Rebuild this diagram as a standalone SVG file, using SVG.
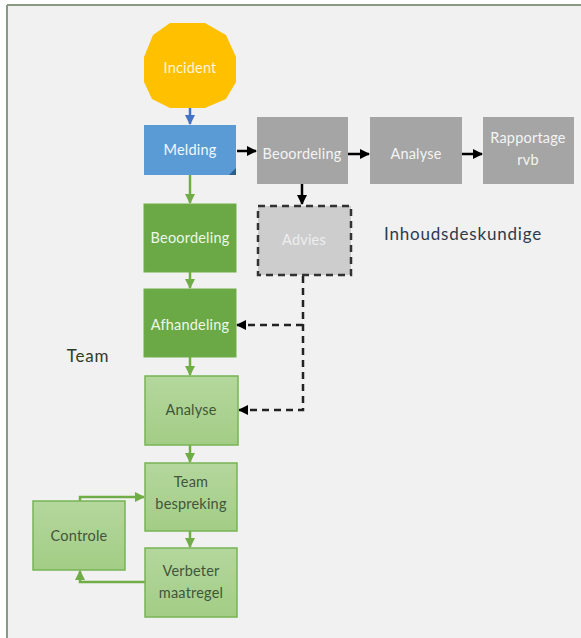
<svg xmlns="http://www.w3.org/2000/svg" width="581" height="638" viewBox="0 0 581 638">
<style>
text{font-family:Lato,"Open Sans","Liberation Sans",sans-serif;font-size:14.5px;text-anchor:middle;letter-spacing:0.2px}
.g{fill:#a5a5a5}
.gt{fill:#f4f4f4}
.dg{fill:#6aa946;stroke:#70ad47;stroke-width:1}
.dgt{fill:#eef7e8}
.lg{fill:url(#lgr);stroke:#78b456;stroke-width:1.5}
.lgt{fill:#42553a}
.lbl{font-size:17px;letter-spacing:0.8px}
.gl{stroke:#70ad47;stroke-width:2.5;fill:none}
.bl{stroke:#000;stroke-width:2.5;fill:none}
.dl{stroke:#222;stroke-width:2.5;fill:none;stroke-dasharray:7 5}
</style>
<defs>
<linearGradient id="lgr" x1="0" y1="0" x2="0" y2="1">
<stop offset="0" stop-color="#b4d79d"/>
<stop offset="1" stop-color="#a3cd86"/>
</linearGradient>
<marker id="ag" viewBox="0 0 10 10" refX="9" refY="5" markerWidth="4" markerHeight="4" orient="auto" markerUnits="strokeWidth"><path d="M0,0L10,5L0,10z" fill="#70ad47"/></marker>
<marker id="ab" viewBox="0 0 10 10" refX="9" refY="5" markerWidth="4" markerHeight="4" orient="auto" markerUnits="strokeWidth"><path d="M0,0L10,5L0,10z" fill="#000"/></marker>
<marker id="abl" viewBox="0 0 10 10" refX="9" refY="5" markerWidth="4" markerHeight="4" orient="auto" markerUnits="strokeWidth"><path d="M0,0L10,5L0,10z" fill="#4472c4"/></marker>
</defs>
<rect x="0" y="0" width="581" height="638" fill="#ffffff"/>
<rect x="8" y="6" width="573" height="632" fill="#f1f1f1"/>
<line x1="7" y1="5" x2="581" y2="5" stroke="#8a9a80" stroke-width="2"/>
<line x1="7" y1="5" x2="7" y2="638" stroke="#8a9a80" stroke-width="2"/>

<g id="connectors">
<line x1="190" y1="108" x2="190" y2="124" stroke="#4472c4" stroke-width="2.5" marker-end="url(#abl)"/>
<line x1="237" y1="151" x2="256" y2="151" class="bl" marker-end="url(#ab)"/>
<line x1="348" y1="154" x2="369" y2="154" class="bl" marker-end="url(#ab)"/>
<line x1="462" y1="154" x2="482" y2="154" class="bl" marker-end="url(#ab)"/>
<line x1="302" y1="184" x2="302" y2="204" class="bl" marker-end="url(#ab)"/>
<line x1="190" y1="175" x2="190" y2="203" class="gl" marker-end="url(#ag)"/>
<line x1="190" y1="272" x2="190" y2="288" class="gl" marker-end="url(#ag)"/>
<line x1="190" y1="357" x2="190" y2="375" class="gl" marker-end="url(#ag)"/>
<line x1="190" y1="445" x2="190" y2="462" class="gl" marker-end="url(#ag)"/>
<line x1="190" y1="531" x2="190" y2="547" class="gl" marker-end="url(#ag)"/>
<path d="M303,276 V410 H239" class="dl" marker-end="url(#ab)"/>
<path d="M303,325 H237" class="dl" marker-end="url(#ab)"/>
<path d="M80,501 V497 H144" class="gl" marker-end="url(#ag)"/>
<path d="M145,582 H80 V571" class="gl" marker-end="url(#ag)"/>
</g>

<g id="incident">
<polygon points="170,23 205,23 226,35 236,57 236,82 226,99 205,108 170,108 152,99 144,82 144,57 153,35" fill="#ffc000"/>
<text x="190" y="73" fill="#fff6d8">Incident</text>
</g>
<g id="melding">
<rect x="144" y="125" width="92" height="50" fill="#5b9bd5"/>
<polygon points="236,168 236,175 229,175" fill="#2e5d8c"/>
<text x="190" y="155" fill="#f2f7fc">Melding</text>
</g>
<g id="beoordeling-grijs">
<rect x="257" y="117" width="91" height="67" class="g"/>
<text x="302" y="159" class="gt">Beoordeling</text>
</g>
<g id="analyse-grijs">
<rect x="370" y="117" width="92" height="67" class="g"/>
<text x="416" y="159" class="gt">Analyse</text>
</g>
<g id="rapportage">
<rect x="483" y="117" width="91" height="67" class="g"/>
<text x="528" y="143" class="gt">Rapportage</text>
<text x="528" y="165" class="gt">rvb</text>
</g>
<g id="advies">
<rect x="258" y="206" width="93" height="69" fill="#cdcdcd" stroke="#333" stroke-width="2.5" stroke-dasharray="7 5"/>
<text x="304" y="245" fill="#eeeeee">Advies</text>
</g>
<g id="inhoudsdeskundige">
<text x="463" y="240" class="lbl" fill="#2e3a4e">Inhoudsdeskundige</text>
</g>
<g id="beoordeling-groen">
<rect x="144" y="204" width="92" height="68" class="dg"/>
<text x="190" y="243" class="dgt">Beoordeling</text>
</g>
<g id="afhandeling">
<rect x="144" y="289" width="92" height="68" class="dg"/>
<text x="190" y="330" class="dgt">Afhandeling</text>
</g>
<g id="team">
<text x="88" y="362" class="lbl" fill="#2f3d26">Team</text>
</g>
<g id="analyse-groen">
<rect x="145" y="376" width="93" height="69" class="lg"/>
<text x="191" y="415" class="lgt">Analyse</text>
</g>
<g id="teambespreking">
<rect x="145" y="463" width="92" height="68" class="lg"/>
<text x="191" y="487" class="lgt">Team</text>
<text x="191" y="509" class="lgt">bespreking</text>
</g>
<g id="verbeter">
<rect x="145" y="548" width="92" height="69" class="lg"/>
<text x="191" y="576" class="lgt">Verbeter</text>
<text x="191" y="598" class="lgt">maatregel</text>
</g>
<g id="controle">
<rect x="33" y="501" width="92" height="69" class="lg"/>
<text x="79" y="541" class="lgt">Controle</text>
</g>
</svg>
